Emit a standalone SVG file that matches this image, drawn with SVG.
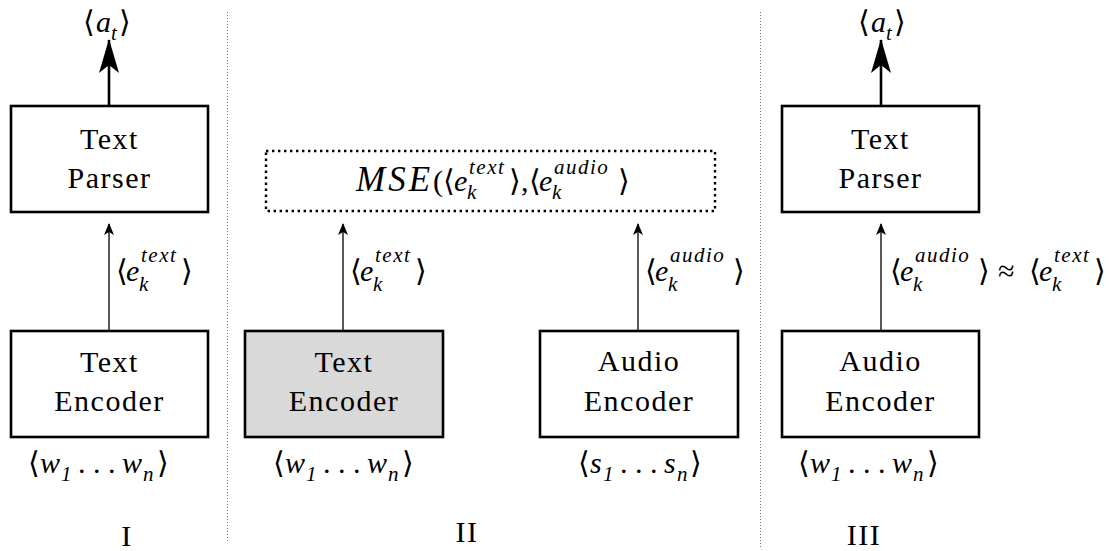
<svg xmlns="http://www.w3.org/2000/svg" width="1113" height="551" viewBox="0 0 1113 551">
<defs>
<style>
.box{fill:#fff;stroke:#000;stroke-width:2.6}
.gray{fill:#d9d9d9}
.dot{fill:none;stroke:#000;stroke-width:2.4;stroke-dasharray:2.4 3.6}
.sep{fill:none;stroke:#777;stroke-width:1;stroke-dasharray:1 2}
.thin{fill:none;stroke:#000;stroke-width:1.3}
.thick{fill:none;stroke:#000;stroke-width:2.6}
text{font-family:'Liberation Serif',serif}
.lbl{font-size:30px;letter-spacing:1.5px;fill:#000;text-anchor:middle}
.m{font-size:30px;font-style:italic;fill:#000}
.big{font-size:35px;letter-spacing:3px}
.s{font-size:21px;letter-spacing:1.5px}
.r{font-style:normal}
.br{font-family:'DejaVu Sans',sans-serif;font-style:normal;font-weight:200;font-size:30px}
</style>
<marker id="ah" viewBox="0 0 12 10" refX="11" refY="5" markerWidth="12" markerHeight="10" markerUnits="userSpaceOnUse" orient="auto">
<path d="M0,0 L12,5 L0,10 L3,5 Z" fill="#000"/>
</marker>
<marker id="ahT" viewBox="0 0 34 20" refX="33" refY="10" markerWidth="34" markerHeight="20" markerUnits="userSpaceOnUse" orient="auto">
<path d="M0,0 L34,10 L0,20 L8,10 Z" fill="#000"/>
</marker>
</defs>

<g id="separators">
<line class="sep" x1="227.5" y1="12" x2="227.5" y2="541"/>
<line class="sep" x1="760.5" y1="12" x2="760.5" y2="548"/>
</g>

<g id="connectors">
<line class="thick" x1="109" y1="106" x2="109" y2="40" marker-end="url(#ahT)"/>
<line class="thin" x1="109" y1="331" x2="109" y2="224" marker-end="url(#ah)"/>
<line class="thin" x1="343" y1="331" x2="343" y2="224" marker-end="url(#ah)"/>
<line class="thin" x1="638" y1="331" x2="638" y2="224" marker-end="url(#ah)"/>
<line class="thick" x1="881" y1="106" x2="881" y2="40" marker-end="url(#ahT)"/>
<line class="thin" x1="881" y1="331" x2="881" y2="224" marker-end="url(#ah)"/>
</g>

<g font-family="Liberation Serif, serif">
<g id="text-parser-1">
<rect class="box" x="11" y="106" width="197" height="106"/>
<text class="lbl" x="109.5" y="149">Text</text>
<text class="lbl" x="109.5" y="188">Parser</text>
</g>
<g id="text-encoder-1">
<rect class="box" x="11" y="331" width="197" height="106"/>
<text class="lbl" x="109.5" y="372">Text</text>
<text class="lbl" x="109.5" y="411">Encoder</text>
</g>
<g id="text-encoder-2">
<rect class="box gray" x="245" y="331" width="198" height="106"/>
<text class="lbl" x="344" y="372">Text</text>
<text class="lbl" x="344" y="411">Encoder</text>
</g>
<g id="audio-encoder-2">
<rect class="box" x="540" y="331" width="198" height="106"/>
<text class="lbl" x="639" y="371">Audio</text>
<text class="lbl" x="639" y="411">Encoder</text>
</g>
<g id="text-parser-3">
<rect class="box" x="782" y="106" width="197" height="106"/>
<text class="lbl" x="880.5" y="149">Text</text>
<text class="lbl" x="880.5" y="188">Parser</text>
</g>
<g id="audio-encoder-3">
<rect class="box" x="782" y="331" width="197" height="106"/>
<text class="lbl" x="880.5" y="371">Audio</text>
<text class="lbl" x="880.5" y="411">Encoder</text>
</g>
<g id="mse">
<rect class="dot" x="266" y="151" width="449" height="60"/>
<text class="m big" x="356" y="191">MSE</text>
<text class="m"><tspan class="r" x="433" y="191">(</tspan><tspan class="br" x="443" y="191">⟨</tspan><tspan x="454" y="191">e</tspan><tspan class="s" x="469" y="174">text</tspan><tspan class="s" x="467" y="199">k</tspan><tspan class="br" x="509" y="191">⟩</tspan><tspan class="r" x="521" y="191">,</tspan><tspan class="br" x="529" y="191">⟨</tspan><tspan x="539" y="191">e</tspan><tspan class="s" x="554" y="174">audio</tspan><tspan class="s" x="552" y="199">k</tspan><tspan class="br" x="618" y="191">⟩</tspan></text>
</g>

<g id="labels">
<text class="m"><tspan class="br" x="83" y="32">⟨</tspan><tspan x="96" y="32">a</tspan><tspan class="s" x="111" y="40">t</tspan><tspan class="br" x="119" y="32">⟩</tspan></text>
<text class="m"><tspan class="br" x="858" y="32">⟨</tspan><tspan x="871" y="32">a</tspan><tspan class="s" x="886" y="40">t</tspan><tspan class="br" x="894" y="32">⟩</tspan></text>

<text class="m"><tspan class="br" x="116" y="281">⟨</tspan><tspan x="126" y="281">e</tspan><tspan class="s" x="141" y="262">text</tspan><tspan class="s" x="139" y="291">k</tspan><tspan class="br" x="181" y="281">⟩</tspan></text>
<text class="m"><tspan class="br" x="350" y="281">⟨</tspan><tspan x="360" y="281">e</tspan><tspan class="s" x="375" y="262">text</tspan><tspan class="s" x="373" y="291">k</tspan><tspan class="br" x="415" y="281">⟩</tspan></text>
<text class="m"><tspan class="br" x="645" y="281">⟨</tspan><tspan x="655" y="281">e</tspan><tspan class="s" x="670" y="262">audio</tspan><tspan class="s" x="668" y="291">k</tspan><tspan class="br" x="733" y="281">⟩</tspan></text>
<text class="m"><tspan class="br" x="890" y="281">⟨</tspan><tspan x="900" y="281">e</tspan><tspan class="s" x="915" y="262">audio</tspan><tspan class="s" x="913" y="291">k</tspan><tspan class="br" x="978" y="281">⟩</tspan><tspan class="r" x="998" y="281">≈</tspan><tspan class="br" x="1029" y="281">⟨</tspan><tspan x="1039" y="281">e</tspan><tspan class="s" x="1054" y="262">text</tspan><tspan class="s" x="1052" y="291">k</tspan><tspan class="br" x="1094" y="281">⟩</tspan></text>

<text class="m"><tspan class="br" x="28" y="473">⟨</tspan><tspan x="40" y="473">w</tspan><tspan class="s" x="61" y="481">1</tspan><tspan class="r" x="78" y="473">. . .</tspan><tspan x="122" y="473">w</tspan><tspan class="s" x="143" y="481">n</tspan><tspan class="br" x="157" y="473">⟩</tspan></text>
<text class="m"><tspan class="br" x="273" y="473">⟨</tspan><tspan x="285" y="473">w</tspan><tspan class="s" x="306" y="481">1</tspan><tspan class="r" x="323" y="473">. . .</tspan><tspan x="367" y="473">w</tspan><tspan class="s" x="388" y="481">n</tspan><tspan class="br" x="402" y="473">⟩</tspan></text>
<text class="m"><tspan class="br" x="578" y="473">⟨</tspan><tspan x="590" y="473">s</tspan><tspan class="s" x="603" y="481">1</tspan><tspan class="r" x="620" y="473">. . .</tspan><tspan x="664" y="473">s</tspan><tspan class="s" x="677" y="481">n</tspan><tspan class="br" x="690" y="473">⟩</tspan></text>
<text class="m"><tspan class="br" x="798" y="473">⟨</tspan><tspan x="810" y="473">w</tspan><tspan class="s" x="831" y="481">1</tspan><tspan class="r" x="848" y="473">. . .</tspan><tspan x="892" y="473">w</tspan><tspan class="s" x="913" y="481">n</tspan><tspan class="br" x="927" y="473">⟩</tspan></text>

<text class="lbl" x="127" y="546">I</text>
<text class="lbl" x="467" y="542">II</text>
<text class="lbl" x="864" y="545">III</text>
</g>
</g>
</svg>
